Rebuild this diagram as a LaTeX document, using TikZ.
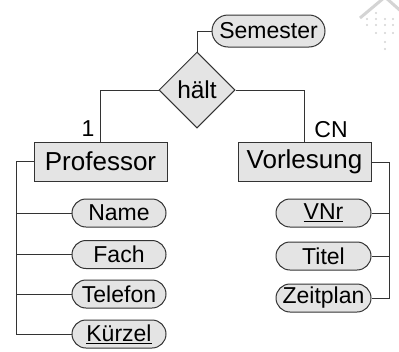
\documentclass[tikz,border=0pt]{standalone}
\usepackage{fontspec}
\setmainfont{Liberation Sans}
\usetikzlibrary{shapes.geometric}
\definecolor{boxfill}{HTML}{E4E4E4}
\definecolor{edge}{HTML}{333333}
\definecolor{logogray}{HTML}{D4D4D4}
\begin{document}
\begin{tikzpicture}[x=1pt,y=-1pt,
  every node/.style={text=black, inner sep=0pt},
  entity/.style={draw=edge, line width=1pt, fill=boxfill, rectangle,
    minimum width=133pt, minimum height=39pt, font=\fontsize{26}{26}\selectfont},
  attr/.style={draw=edge, line width=1pt, fill=boxfill, rectangle, rounded corners=14pt,
    minimum width=94pt, minimum height=28pt, font=\fontsize{23}{23}\selectfont},
  relation/.style={draw=edge, line width=1pt, fill=boxfill, diamond,
    minimum width=76pt, minimum height=76pt, font=\fontsize{24.5}{24.5}\selectfont},
  card/.style={font=\fontsize{23}{23}\selectfont},
  link/.style={draw=edge, line width=1pt}
]
\useasboundingbox (0,0) rectangle (399,351);

% faint house logo in the corner
\draw[logogray, line width=3pt] (360,18) -- (385,-3) -- (403,13);
\foreach \p in {(376,13),(367,19),(376,19),(385,19),(393,19),
                (367,25),(376,25),(385,25),(393,25),
                (376,33),(385,33),(393,33),(385,42),(385,49)}
  \fill[logogray] \p circle (1.1pt);

% relationship and its attribute
\node[relation] (halt) at (197,90) {hält};
\node[attr, minimum width=113pt, minimum height=32pt, rounded corners=16pt] (sem) at (268.5,31) {Semester};

% entities
\node[entity] (prof) at (100.5,161.5) {Professor};
\node[entity] (vorl) at (304.5,162) {Vorlesung};

% cardinalities
\node[card] (c1) at (88,129) {1};
\node[card] (cn) at (331,130) {CN};

% attributes of Professor
\node[attr] (name) at (119,213) {Name};
\node[attr] (fach) at (119,254.5) {Fach};
\node[attr] (tel)  at (119,294) {Telefon};
\node[attr] (kurz) at (119,334) {\underline{Kürzel}};

% attributes of Vorlesung
\node[attr, minimum width=95pt] (vnr)  at (323.5,213) {\underline{VNr}};
\node[attr, minimum width=95pt] (tit)  at (323.5,256) {Titel};
\node[attr, minimum width=95pt] (zeit) at (323.5,298) {Zeitplan};

% connectors
\draw[link] (sem.west) -| (halt.north);
\draw[link] (halt.west) -| (prof.north);
\draw[link] (halt.east) -| (vorl.north);

\coordinate (pl) at (16,161.5);
\draw[link] (prof.west) -- (pl) |- (kurz.west);
\draw[link] (name.west) -- (name.west -| pl);
\draw[link] (fach.west) -- (fach.west -| pl);
\draw[link] (tel.west)  -- (tel.west -| pl);

\coordinate (vr) at (389,162);
\draw[link] (vorl.east) -- (vr) |- (zeit.east);
\draw[link] (vnr.east) -- (vnr.east -| vr);
\draw[link] (tit.east) -- (tit.east -| vr);
\end{tikzpicture}
\end{document}
